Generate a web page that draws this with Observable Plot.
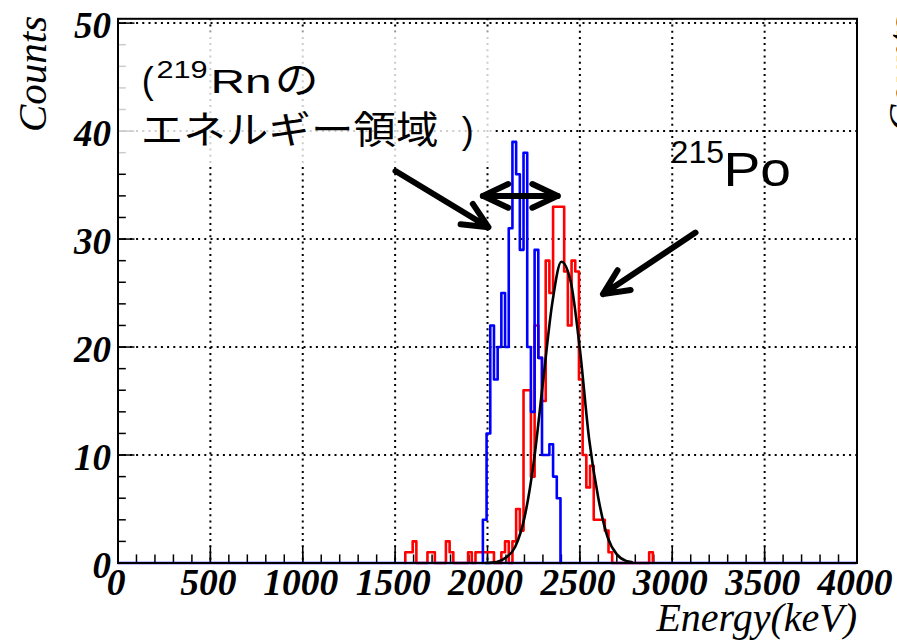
<!DOCTYPE html>
<html><head><meta charset="utf-8">
<script src="https://cdn.jsdelivr.net/npm/d3@7"></script>
<script src="https://cdn.jsdelivr.net/npm/@observablehq/plot@0.6"></script>
<style>html,body{margin:0;padding:0;background:#fff;overflow:hidden;} svg{display:block}</style>
</head><body><div id="chart"></div>
<script>
// ---- data ----
const xTicks = [0, 500, 1000, 1500, 2000, 2500, 3000, 3500, 4000];
const xTickLabels = ["0", "500", "1000", "1500", "2000", "2500", "3000", "3500", "4000"];
const yTicks = [0, 10, 20, 30, 40, 50];
const yTickLabels = ["0", "10", "20", "30", "40", "50"];
const binWidth = 20;                 // keV
const blueStart = 1975;              // lower edge of first blue bin (keV)
const blueCounts = [4, 12, 22, 17, 20, 25, 20, 31, 39, 36, 29, 38, 20, 14, 29, 19, 10, 10, 11, 8, 6];
const redStart = 1555;               // lower edge of first red bin (keV)
const redCounts = [
  1, 1, 2, 0, 0, 0, 1, 1, 0, 0, 0, 2, 1, 0, 0, 0, 0, 1, 0, 1, 1,
  1, 1, 1, 0, 0, 1, 2, 0, 2, 5, 3, 16, 16, 8, 22, 19, 15, 28, 25, 33,
  33, 33, 27, 22, 28, 27, 17, 10, 7, 9, 4, 4, 4, 3, 1, 0, 0, 0, 0, 0,
  0, 0, 0, 0, 0, 1
];
const fitEnergy = [1990, 2050, 2100, 2150, 2200, 2250, 2300, 2350, 2400, 2450, 2500, 2550, 2600, 2650, 2700, 2750, 2780];
const fitCounts = [0.0, 0.1, 0.5, 1.5, 4.2, 9.3, 16.7, 24.0, 27.9, 26.1, 19.8, 11.5, 6.0, 2.4, 0.8, 0.2, 0.1];

// ---- build step outlines from the bins ----
function stepPoints(start, counts) {
  const pts = [{x: start, y: 0}];
  counts.forEach((c, i) => pts.push({x: start + i * binWidth, y: c}));
  pts.push({x: start + counts.length * binWidth, y: 0});
  return pts;
}
const bluePts = stepPoints(blueStart, blueCounts);
const redPts = stepPoints(redStart, redCounts);
const fitPts = fitEnergy.map((e, i) => ({x: e, y: fitCounts[i]}));

const xMinor = d3.range(0, 4001, 100);
const yMinor = d3.range(0, 51, 2);

const serif = "'Liberation Serif', 'Times New Roman', serif";
const sans = "'Liberation Sans', Arial, sans-serif";
const cjk = "'Noto Sans CJK JP', sans-serif";

const arrowStyle = {x1: "x1", y1: "y1", x2: "x2", y2: "y2", stroke: "black", strokeWidth: 6, headLength: 7, headAngle: 50, strokeLinecap: "round", strokeLinejoin: "round"};

const chart = Plot.plot({
  width: 897, height: 640,
  marginLeft: 117.5, marginRight: 40.5, marginTop: 18.3, marginBottom: 77.5,
  x: {domain: [0, 4000], axis: null},
  y: {domain: [0, 50.4], axis: null},
  style: {background: "white", overflow: "hidden"},
  marks: [
    // grid
    Plot.ruleX(xTicks, {stroke: "black", strokeWidth: 2, strokeDasharray: "2,4.2"}),
    Plot.ruleY(yTicks, {stroke: "black", strokeWidth: 2, strokeDasharray: "2,4.2"}),
    // ticks
    Plot.ruleX(xMinor, {y1: 0, y2: 0.75, stroke: "black", strokeWidth: 1.5}),
    Plot.ruleX(xTicks, {y1: 0, y2: 1.55, stroke: "black", strokeWidth: 1.5}),
    Plot.ruleY(yMinor, {x1: 0, x2: 45, stroke: "black", strokeWidth: 1.5}),
    Plot.ruleY(yTicks, {x1: 0, x2: 92, stroke: "black", strokeWidth: 1.5}),
    // histograms
    Plot.line(redPts, {x: "x", y: "y", curve: "step-after", stroke: "#ff0000", strokeWidth: 2.6}),
    Plot.ruleY([0], {stroke: "#0000ff", strokeWidth: 2.6}),
    Plot.line(bluePts, {x: "x", y: "y", curve: "step-after", stroke: "#0000ff", strokeWidth: 2.6}),
    // fit
    Plot.line(fitPts, {x: "x", y: "y", curve: "monotone-x", stroke: "black", strokeWidth: 2.6}),
    // translucent label box
    Plot.rect([{x1: 8, x2: 2043, y1: 36.7, y2: 49.2}], {x1: "x1", x2: "x2", y1: "y1", y2: "y2", fill: "white", fillOpacity: 0.8}),
    // annotations
    Plot.text(["("], {x: 129, y: 43.55, text: d => d, fontFamily: sans, fontSize: 36, textAnchor: "start", lineAnchor: "bottom"}),
    Plot.text(["219"], {x: 208, y: 44.9, text: d => d, fontFamily: sans, fontSize: 24, textAnchor: "start", lineAnchor: "bottom"}),
    Plot.text(["Rn"], {x: 500, y: 43.5, text: d => d, fontFamily: sans, fontSize: 33, textAnchor: "start", lineAnchor: "bottom"}),
    Plot.text(["の"], {x: 848, y: 43.5, text: d => d, fontFamily: cjk, fontSize: 38, textAnchor: "start", lineAnchor: "bottom"}),
    Plot.text(["エネルギー領域"], {x: 123, y: 38.9, text: d => d, fontFamily: cjk, fontSize: 38, textAnchor: "start", lineAnchor: "bottom"}),
    Plot.text([")"], {x: 1860, y: 38.9, text: d => d, fontFamily: sans, fontSize: 36, textAnchor: "start", lineAnchor: "bottom"}),
    Plot.text(["215"], {x: 2991, y: 37.0, text: d => d, fontFamily: sans, fontSize: 32, textAnchor: "start", lineAnchor: "bottom"}),
    Plot.text(["Po"], {x: 3277, y: 34.9, text: d => d, fontFamily: sans, fontSize: 48, textAnchor: "start", lineAnchor: "bottom"}),
    // arrows
    Plot.arrow([{x1: 1502, y1: 36.3, x2: 2005, y2: 31.1}], arrowStyle),
    Plot.arrow([{x1: 1813, y1: 34.0, x2: 2380, y2: 34.0}], {...arrowStyle, insetStart: 30}),
    Plot.arrow([{x1: 2542, y1: 34.0, x2: 1975, y2: 34.0}], {...arrowStyle, insetStart: 30}),
    Plot.arrow([{x1: 3126, y1: 30.6, x2: 2625, y2: 24.9}], arrowStyle),
    // axis labels
    Plot.text(xTicks, {x: d => d, text: (d, i) => xTickLabels[i], frameAnchor: "bottom", lineAnchor: "bottom", dx: -2, dy: 31.5, fontFamily: serif, fontStyle: "italic", fontWeight: "bold", fontSize: 37.5}),
    Plot.text(yTicks, {y: d => d, text: (d, i) => yTickLabels[i], frameAnchor: "left", textAnchor: "end", lineAnchor: "bottom", dx: -7, dy: 14.5, fontFamily: serif, fontStyle: "italic", fontWeight: "bold", fontSize: 37}),
    Plot.text(["Energy(keV)"], {frameAnchor: "bottom-right", textAnchor: "end", lineAnchor: "bottom", dy: 67.5, text: d => d, fontFamily: serif, fontStyle: "italic", fontSize: 40}),
    Plot.text(["Counts"], {frameAnchor: "top-left", rotate: -90, textAnchor: "end", lineAnchor: "bottom", dx: -72.5, dy: -3, text: d => d, fontFamily: serif, fontStyle: "italic", fontSize: 41}),
    // sliver of the neighbouring panel's axis title, cut by the right edge as in the reference
    Plot.text(["Counts"], {frameAnchor: "top-left", rotate: -90, textAnchor: "end", lineAnchor: "bottom", dx: 797.5, dy: -3, text: d => d, fontFamily: serif, fontStyle: "italic", fontSize: 41}),
    Plot.frame({stroke: "black", strokeWidth: 2})
  ]
});
document.getElementById("chart").appendChild(chart);

// horizontal stretch of the pasted annotation text (as in the reference)
const stretch = {"219": 1.28, "Rn": 1.45, "の": 1.15, "エネルギー領域": 1.12, "Po": 1.15};
chart.querySelectorAll("text").forEach(t => {
  const sx = stretch[t.textContent];
  if (!sx) return;
  let tr = t.getAttribute("transform") || "";
  const x = t.getAttribute("x");
  if (x !== null && !isNaN(+x)) { tr += ` translate(${x},0)`; t.removeAttribute("x"); }
  t.setAttribute("transform", `${tr} scale(${sx},1)`);
});
</script>
</body></html>
